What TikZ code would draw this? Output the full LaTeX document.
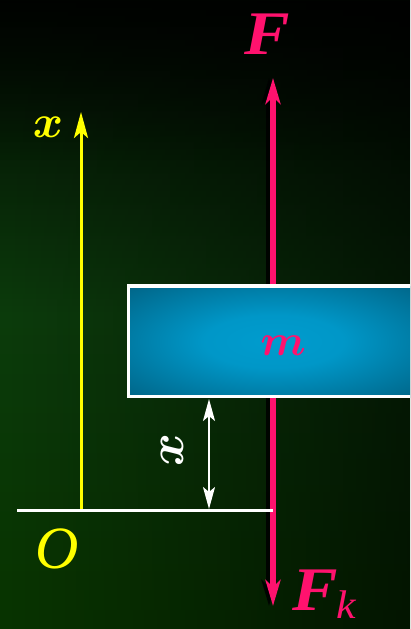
\documentclass[tikz,border=0pt]{standalone}
\usepackage{fontspec}
\setmainfont{Liberation Serif}
\usetikzlibrary{arrows.meta,fadings}
\definecolor{forcepink}{RGB}{255,18,110}
\definecolor{axisyellow}{RGB}{255,255,0}
\definecolor{bgtop}{RGB}{2,8,2}
\definecolor{bgmid}{RGB}{12,60,12}
\definecolor{bgbot}{RGB}{8,52,0}
\definecolor{boxin}{RGB}{0,156,206}
\definecolor{boxout}{RGB}{0,70,96}
\pgfdeclareradialshading{boxshade}{\pgfpoint{0bp}{0bp}}{color(0bp)=(boxin); color(12bp)=(boxin!94!boxout); color(50bp)=(boxout)}
\tikzfading[name=fadetoright, left color=transparent!100, right color=transparent!0]
\tikzset{
  forceline/.style={forcepink, line width=5.5pt, {Stealth[length=26pt,width=15pt,inset=7pt]}-{Stealth[length=26pt,width=15pt,inset=7pt]}},
  shadowline/.style={black, opacity=0.85, line width=5.5pt, {Stealth[length=26pt,width=15pt,inset=7pt]}-{Stealth[length=26pt,width=15pt,inset=7pt]}},
  axisline/.style={axisyellow, line width=3pt, -{Stealth[length=26pt,width=14pt,inset=6pt]}},
  dimline/.style={white, line width=2.2pt, {Stealth[length=22pt,width=12pt,inset=5pt]}-{Stealth[length=22pt,width=12pt,inset=5pt]}},
  groundline/.style={white, line width=3pt},
  forcelabel/.style={forcepink, inner sep=0pt, xscale=1.1, font=\fontsize{62}{62}\selectfont\bfseries\itshape},
  yellowlabel/.style={axisyellow, inner sep=0pt},
  masslabel/.style={forcepink, inner sep=0pt, scale=4.4, font=\boldmath},
}
\begin{document}
\begin{tikzpicture}[x=1pt,y=-1pt]
\useasboundingbox (0,0) rectangle (410,629);
\clip (0,0) rectangle (410,629);
% background
\shade[top color=bgtop, bottom color=bgbot, middle color=bgmid] (0,0) rectangle (410,629);
\fill[black, opacity=0.6, path fading=fadetoright] (0,0) rectangle (410,629);
\fill[black, opacity=0.6, path fading=south] (0,0) rectangle (410,160);

% named points
\coordinate (ftop) at (273,78);
\coordinate (fbot) at (273,606);
\coordinate (ax0) at (81,509);
\coordinate (ax1) at (81,112);
\coordinate (g0) at (17,510);
\coordinate (g1) at (273,510);
\coordinate (d0) at (209,399);
\coordinate (d1) at (209,509);

% force line with shadow
\draw[shadowline] ([xshift=-4pt]ftop) -- ([xshift=-4pt]fbot);
\draw[forceline] (ftop) -- (fbot);

% mass block
\shade[shading=boxshade] (128,286) rectangle (420,397);
\draw[white, line width=3.3pt] (420,286) -- (128.3,286) -- (128.3,396.7) -- (420,396.7);
\node[masslabel] (m) at (283,346) {$m$};

% axis and ground
\draw[axisline] (ax0) -- (ax1);
\draw[groundline] (g0) -- (g1);
\draw[dimline] (d0) -- (d1);

% labels
\node[forcelabel, anchor=base] (F) at (267,54) {F};
\node[forcelabel, anchor=base west] (Fk) at (292,610) {F\kern-1pt\raisebox{-8pt}{\fontsize{40}{40}\selectfont\mdseries k}};
\node[yellowlabel, scale=4.6, font=\boldmath] (xl) at (48,127) {$x$};
\node[yellowlabel, font=\fontsize{60}{60}\selectfont\itshape] (O) at (57,549) {O};
\node[white, inner sep=0pt, rotate=90, scale=5, font=\boldmath] (xd) at (172,450) {$x$};
\end{tikzpicture}
\end{document}
